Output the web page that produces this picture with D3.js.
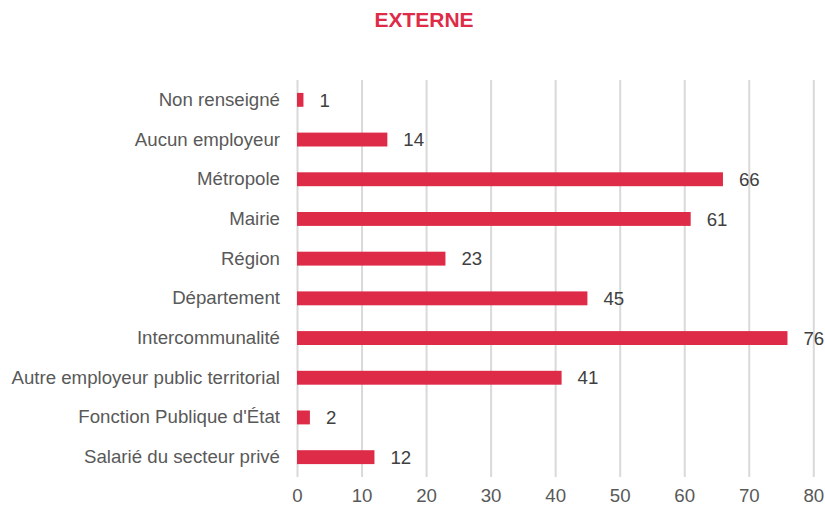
<!DOCTYPE html>
<html>
<head>
<meta charset="utf-8">
<script src="https://cdn.jsdelivr.net/npm/d3@7"></script>
<style>
  body { margin: 0; background: #fff; }
  svg text { font-family: "Liberation Sans", Arial, sans-serif; }
  .axis path, .axis line { display: none; }
  .axis text { fill: #595959; font-size: 18.67px; }
  .grid line { stroke: #d9d9d9; stroke-width: 2; }
  .grid path { display: none; }
</style>
</head>
<body>
<script>
var categories = [
  "Non renseigné",
  "Aucun employeur",
  "Métropole",
  "Mairie",
  "Région",
  "Département",
  "Intercommunalité",
  "Autre employeur public territorial",
  "Fonction Publique d'État",
  "Salarié du secteur privé"
];
var values = [1, 14, 66, 61, 23, 45, 76, 41, 2, 12];
var xTicks = [0, 10, 20, 30, 40, 50, 60, 70, 80];
var chartTitle = "EXTERNE";

var data = categories.map(function(c, i) { return {cat: c, val: values[i]}; });

var margin = {top: 80, right: 12, bottom: 32, left: 297};

var barColor = "#de2b48";

var x = d3.scaleLinear()
    .range([0, 516.3])
    .domain([0, 80]);

var y = d3.scaleBand()
    .range([0, 397])
    .domain(categories)
    .paddingInner(0.65)
    .paddingOuter(0.325);

var svg = d3.select("body").append("svg")
    .attr("width", 825)
    .attr("height", 509);

svg.append("text")
    .attr("x", 424)
    .attr("y", 27)
    .attr("text-anchor", "middle")
    .style("font-size", "21px")
    .style("font-weight", "bold")
    .style("fill", barColor)
    .text(chartTitle);

var g = svg.append("g")
    .attr("transform", "translate(" + margin.left + "," + margin.top + ")");

g.append("g")
    .attr("class", "grid")
    .call(d3.axisBottom(x).tickValues(xTicks).tickSize(397).tickFormat(""));

g.append("g")
    .attr("class", "axis axis--x")
    .attr("transform", "translate(0,397)")
    .call(d3.axisBottom(x).tickValues(xTicks).tickSize(0).tickPadding(12));

g.append("g")
    .attr("class", "axis axis--y")
    .call(d3.axisLeft(y).tickSize(0).tickPadding(17));

g.selectAll(".bar")
    .data(data)
  .enter().append("rect")
    .attr("class", "bar")
    .attr("x", x(0))
    .attr("y", function(d) { return y(d.cat); })
    .attr("width", function(d) { return x(d.val) - x(0); })
    .attr("height", y.bandwidth())
    .style("fill", barColor);

g.selectAll(".val")
    .data(data)
  .enter().append("text")
    .attr("class", "val")
    .attr("x", function(d) { return x(d.val) + 16; })
    .attr("y", function(d) { return y(d.cat) + y.bandwidth() / 2; })
    .attr("dy", ".36em")
    .style("font-size", "18.67px")
    .style("fill", "#404040")
    .text(function(d) { return d.val; });
</script>
</body>
</html>
